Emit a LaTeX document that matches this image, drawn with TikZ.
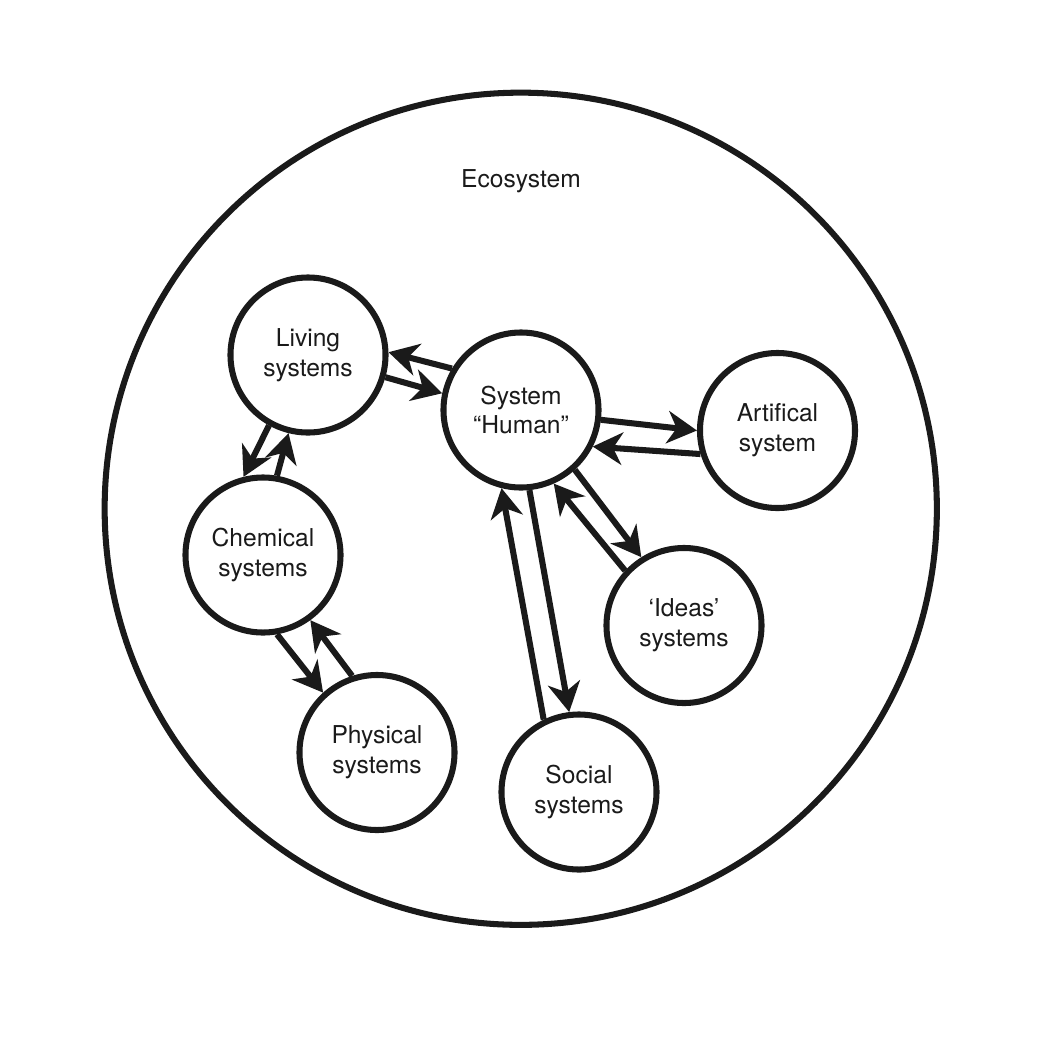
\documentclass[tikz,border=0pt]{standalone}
\usepackage{fontspec}
\setmainfont{TeX Gyre Heros}
\usetikzlibrary{arrows.meta}
\definecolor{ink}{HTML}{1A1A1A}
\begin{document}
\begin{tikzpicture}[x=0.025cm, y=-0.025cm, line width=4.3pt, color=ink,
    sys/.style={draw, circle, minimum size=3.875cm, inner sep=0pt, align=center,
      font=\fontsize{17.5}{21.3}\selectfont},
    flow/.style={-{Stealth[length=21pt, width=23pt, inset=6.5pt]}}]
  \useasboundingbox (0,0) rectangle (1042,1042);
  \node[draw, circle, minimum size=20.8cm] (eco) at (520.75,508.75) {};
  \node[font=\fontsize{17.5}{21.3}\selectfont] (ecolabel) at (521,181) {Ecosystem};
  \draw
    (308,355) node[sys] (living){Living\\systems}
    (521,410) node[sys] (human){System\\“Human”}
    (777.5,430.5) node[sys] (artif){Artifical\\system}
    (263,555) node[sys] (chem){Chemical\\systems}
    (684,625.5) node[sys] (ideas){‘Ideas’\\systems}
    (377,752.5) node[sys] (phys){Physical\\systems}
    (579,792) node[sys] (social){Social\\systems};
  \begin{scope}[flow]
    \draw (human.149) to (living.2);
    \draw (living.-16) to (human.168);
    \draw (human.-7) to (artif.180);
    \draw (artif.197.5) to (human.-27);
    \draw (living.241) to (chem.104);
    \draw (chem.80) to (living.256.5);
    \draw (chem.280) to (phys.132.5);
    \draw (phys.108) to (chem.-54);
    \draw (social.116.6) to (human.256.6);
    \draw (human.276) to (social.97.6);
    \draw (ideas.137.7) to (human.-66);
    \draw (human.-48) to (ideas.122.7);
  \end{scope}
\end{tikzpicture}
\end{document}
